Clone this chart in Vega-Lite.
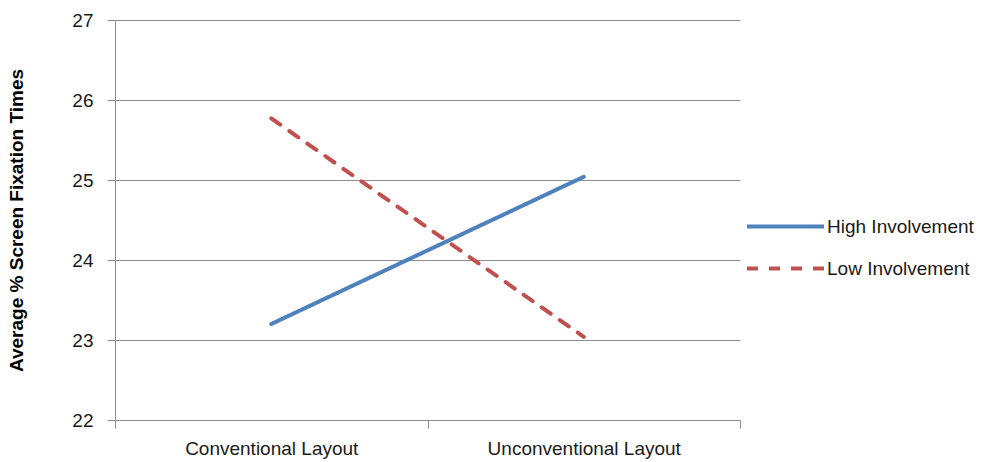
{
  "$schema": "https://vega.github.io/schema/vega-lite/v6.json",
  "width": 625,
  "height": 400,
  "autosize": "none",
  "padding": {"left": 115, "top": 20, "right": 241, "bottom": 42},
  "background": "white",
  "data": {
    "values": [
      {"layout": "Conventional Layout", "group": "High Involvement", "value": 23.2},
      {"layout": "Unconventional Layout", "group": "High Involvement", "value": 25.04},
      {"layout": "Conventional Layout", "group": "Low Involvement", "value": 25.77},
      {"layout": "Unconventional Layout", "group": "Low Involvement", "value": 23.04}
    ]
  },
  "mark": {"type": "line", "strokeWidth": 4, "strokeCap": "round"},
  "encoding": {
    "x": {
      "field": "layout",
      "type": "nominal",
      "sort": ["Conventional Layout", "Unconventional Layout"],
      "scale": {"paddingInner": 0, "paddingOuter": 0},
      "axis": {
        "title": null,
        "labelAngle": 0,
        "labelLimit": 0,
        "tickBand": "extent",
        "grid": false,
        "domainColor": "#8c8c8c",
        "tickColor": "#8c8c8c",
        "tickSize": 8,
        "labelFont": "Liberation Sans",
        "labelFontSize": 19,
        "labelColor": "#1a1a1a",
        "labelPadding": 11
      }
    },
    "y": {
      "field": "value",
      "type": "quantitative",
      "scale": {"domain": [22, 27], "nice": false, "zero": false},
      "axis": {
        "title": "Average % Screen Fixation Times",
        "titleFont": "Liberation Sans",
        "titleFontSize": 19,
        "titleFontWeight": "bold",
        "titleColor": "#000000",
        "titlePadding": 45,
        "values": [22, 23, 24, 25, 26, 27],
        "grid": true,
        "gridColor": "#8c8c8c",
        "domainColor": "#8c8c8c",
        "tickColor": "#8c8c8c",
        "tickSize": 8,
        "labelFont": "Liberation Sans",
        "labelFontSize": 19,
        "labelColor": "#1a1a1a",
        "labelPadding": 14
      }
    },
    "color": {
      "field": "group",
      "type": "nominal",
      "scale": {"domain": ["High Involvement", "Low Involvement"], "range": ["#4f81bd", "#c0504d"]},
      "legend": {
        "title": null,
        "orient": "none",
        "legendX": 649,
        "legendY": 185,
        "symbolType": "M-2,0H2",
        "symbolSize": 1482,
        "symbolStrokeWidth": 4,
        "rowPadding": 10,
        "labelFont": "Liberation Sans",
        "labelFontSize": 19,
        "labelColor": "#1a1a1a",
        "labelOffset": 20,
        "labelLimit": 0
      }
    },
    "strokeDash": {
      "field": "group",
      "type": "nominal",
      "scale": {"domain": ["High Involvement", "Low Involvement"], "range": [[1, 0], [11, 11]]}
    }
  },
  "config": {"view": {"stroke": null}}
}
